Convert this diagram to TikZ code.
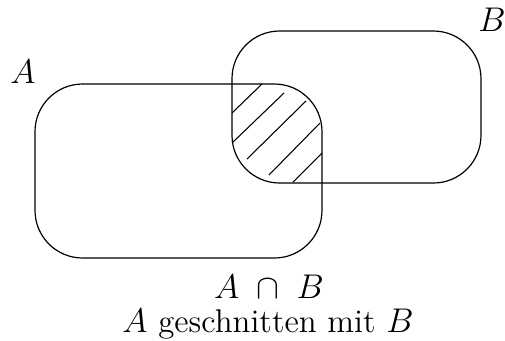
\documentclass[tikz,border=0pt]{standalone}
\begin{document}
\begin{tikzpicture}[x=0.42pt,y=-0.42pt,
  setbox/.style={draw,line width=0.5pt,rounded corners=20pt},
  hatch/.style={line width=0.45pt},
  lbl/.style={inner sep=0pt,font=\fontsize{13.8}{16}\selectfont}]
\useasboundingbox (0,0) rectangle (505,340);
\draw[setbox] (35,84) rectangle (322,258);
\draw[setbox] (232,31) rectangle (481,183);
\draw[hatch] (232,113) -- (262,84);
\draw[hatch] (232,143) -- (284,93);
\draw[hatch] (247,159) -- (306,101);
\draw[hatch] (269,175) -- (320,123);
\draw[hatch] (293,182) -- (322,153);
\node[lbl] (la) at (23,72) {$A$};
\node[lbl] (lb) at (492,20) {$B$};
\node[lbl,anchor=base] (cap) at (269,298) {$A\;\cap\;B$};
\node[lbl,anchor=base] (txt) at (268,332) {$A$ geschnitten mit $B$};
\end{tikzpicture}
\end{document}
